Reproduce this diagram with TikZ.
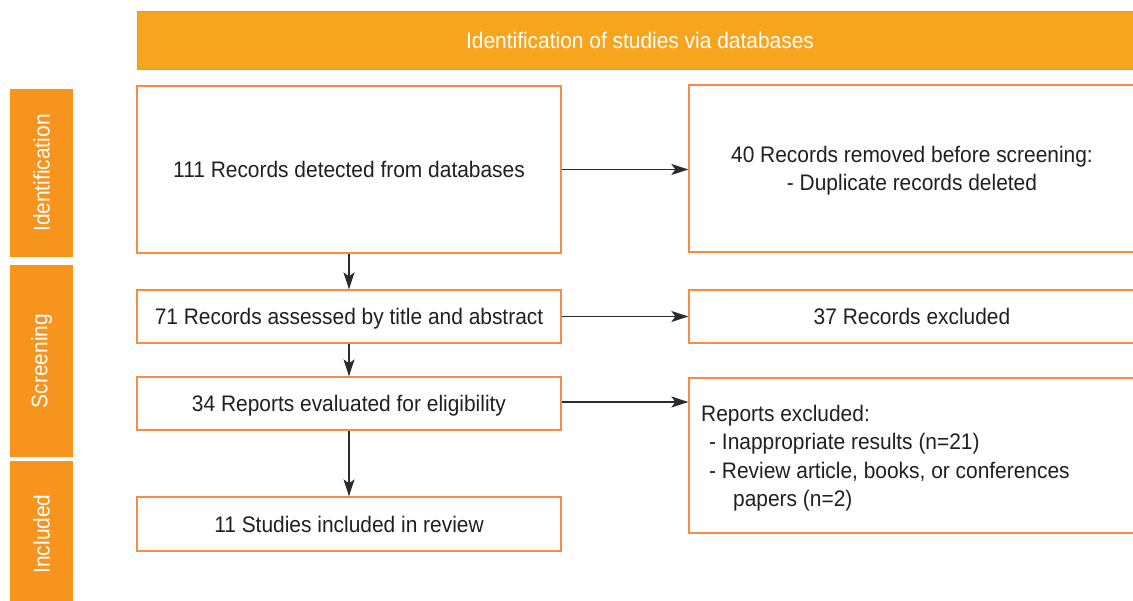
\documentclass[tikz,border=0pt]{standalone}
\usepackage{fontspec}
\setmainfont[FakeStretch=0.93]{Liberation Sans}
\usetikzlibrary{arrows.meta}
\definecolor{headfill}{HTML}{F7A51F}
\definecolor{headline}{HTML}{F39236}
\definecolor{sidefill}{HTML}{F7941D}
\definecolor{boxline}{HTML}{F58B45}
\definecolor{ink}{HTML}{231F20}
\definecolor{arrowink}{HTML}{2B2B2B}
\tikzset{
  basefont/.style={font=\fontsize{22.5}{28.5}\selectfont},
  flowbox/.style={basefont, draw=boxline, line width=1.3pt, fill=white,
    text=ink, inner sep=0pt, align=center, text height=16pt, text depth=0pt},
  sidebar/.style={basefont, fill=sidefill, text=white, inner sep=0pt,
    minimum height=63pt, rotate=90},
  headbar/.style={basefont, fill=headfill, draw=headline, line width=1pt,
    text=white, inner sep=0pt},
  flowarrow/.style={draw=arrowink, line width=1.3pt,
    -{Stealth[length=17pt, width=11pt, inset=4pt]}}
}
\begin{document}
\begin{tikzpicture}[x=1pt, y=-1pt]
  \useasboundingbox (0,0) rectangle (1133,601);
  \clip (0,0) rectangle (1133,601);

  % banner across the top
  \node[headbar, minimum width=1010pt, minimum height=58pt] (head) at (642,41) {};
  \node[basefont, text=white, text height=16pt, text depth=0pt] (headtext) at (640,41)
    {Identification of studies via databases};

  % phase labels on the left
  \node[sidebar, minimum width=168pt] (sideid) at (41.5,173) {Identification};
  \node[sidebar, minimum width=192pt] (sidescr) at (41.5,361) {Screening};
  \node[sidebar, minimum width=145pt] (sideinc) at (41.5,534) {Included};

  % main column
  \node[flowbox, minimum width=424pt, minimum height=167pt] (detected) at (349,169.5)
    {111 Records detected from databases};
  \node[flowbox, minimum width=424pt, minimum height=53pt] (assessed) at (349,316.5)
    {71 Records assessed by title and abstract};
  \node[flowbox, minimum width=424pt, minimum height=53pt] (eligible) at (349,403.5)
    {34 Reports evaluated for eligibility};
  \node[flowbox, minimum width=424pt, minimum height=54pt] (included) at (349,524)
    {11 Studies included in review};

  % exclusion column
  \node[flowbox, minimum width=446pt, minimum height=167pt] (removed) at (912,168.5) {};
  \node[basefont, text=ink, align=center] (removedtext) at (912,170.5)
    {40 Records removed before screening:\\- Duplicate records deleted};
  \node[flowbox, minimum width=446pt, minimum height=53pt] (excluded) at (912,316.5)
    {37 Records excluded};
  \node[flowbox, minimum width=446pt, minimum height=155pt] (reports) at (912,455.5) {};
  \node[basefont, text=ink, align=left, anchor=west, inner sep=0pt] (reportstext)
    at (701,458)
    {Reports excluded:\\
     \hspace*{8pt}- Inappropriate results (n=21)\\
     \hspace*{8pt}- Review article, books, or conferences\\
     \hspace*{32pt}papers (n=2)};

  % connectors
  \draw[flowarrow] (detected) -- (assessed);
  \draw[flowarrow] (assessed) -- (eligible);
  \draw[flowarrow] (eligible) -- (included);
  \draw[flowarrow] (detected.east) -- (detected.east -| removed.west);
  \draw[flowarrow] (assessed.east) -- (assessed.east -| excluded.west);
  \draw[flowarrow] ([yshift=1.5pt]eligible.east) -- ([yshift=1.5pt]eligible.east -| reports.west);
\end{tikzpicture}
\end{document}
